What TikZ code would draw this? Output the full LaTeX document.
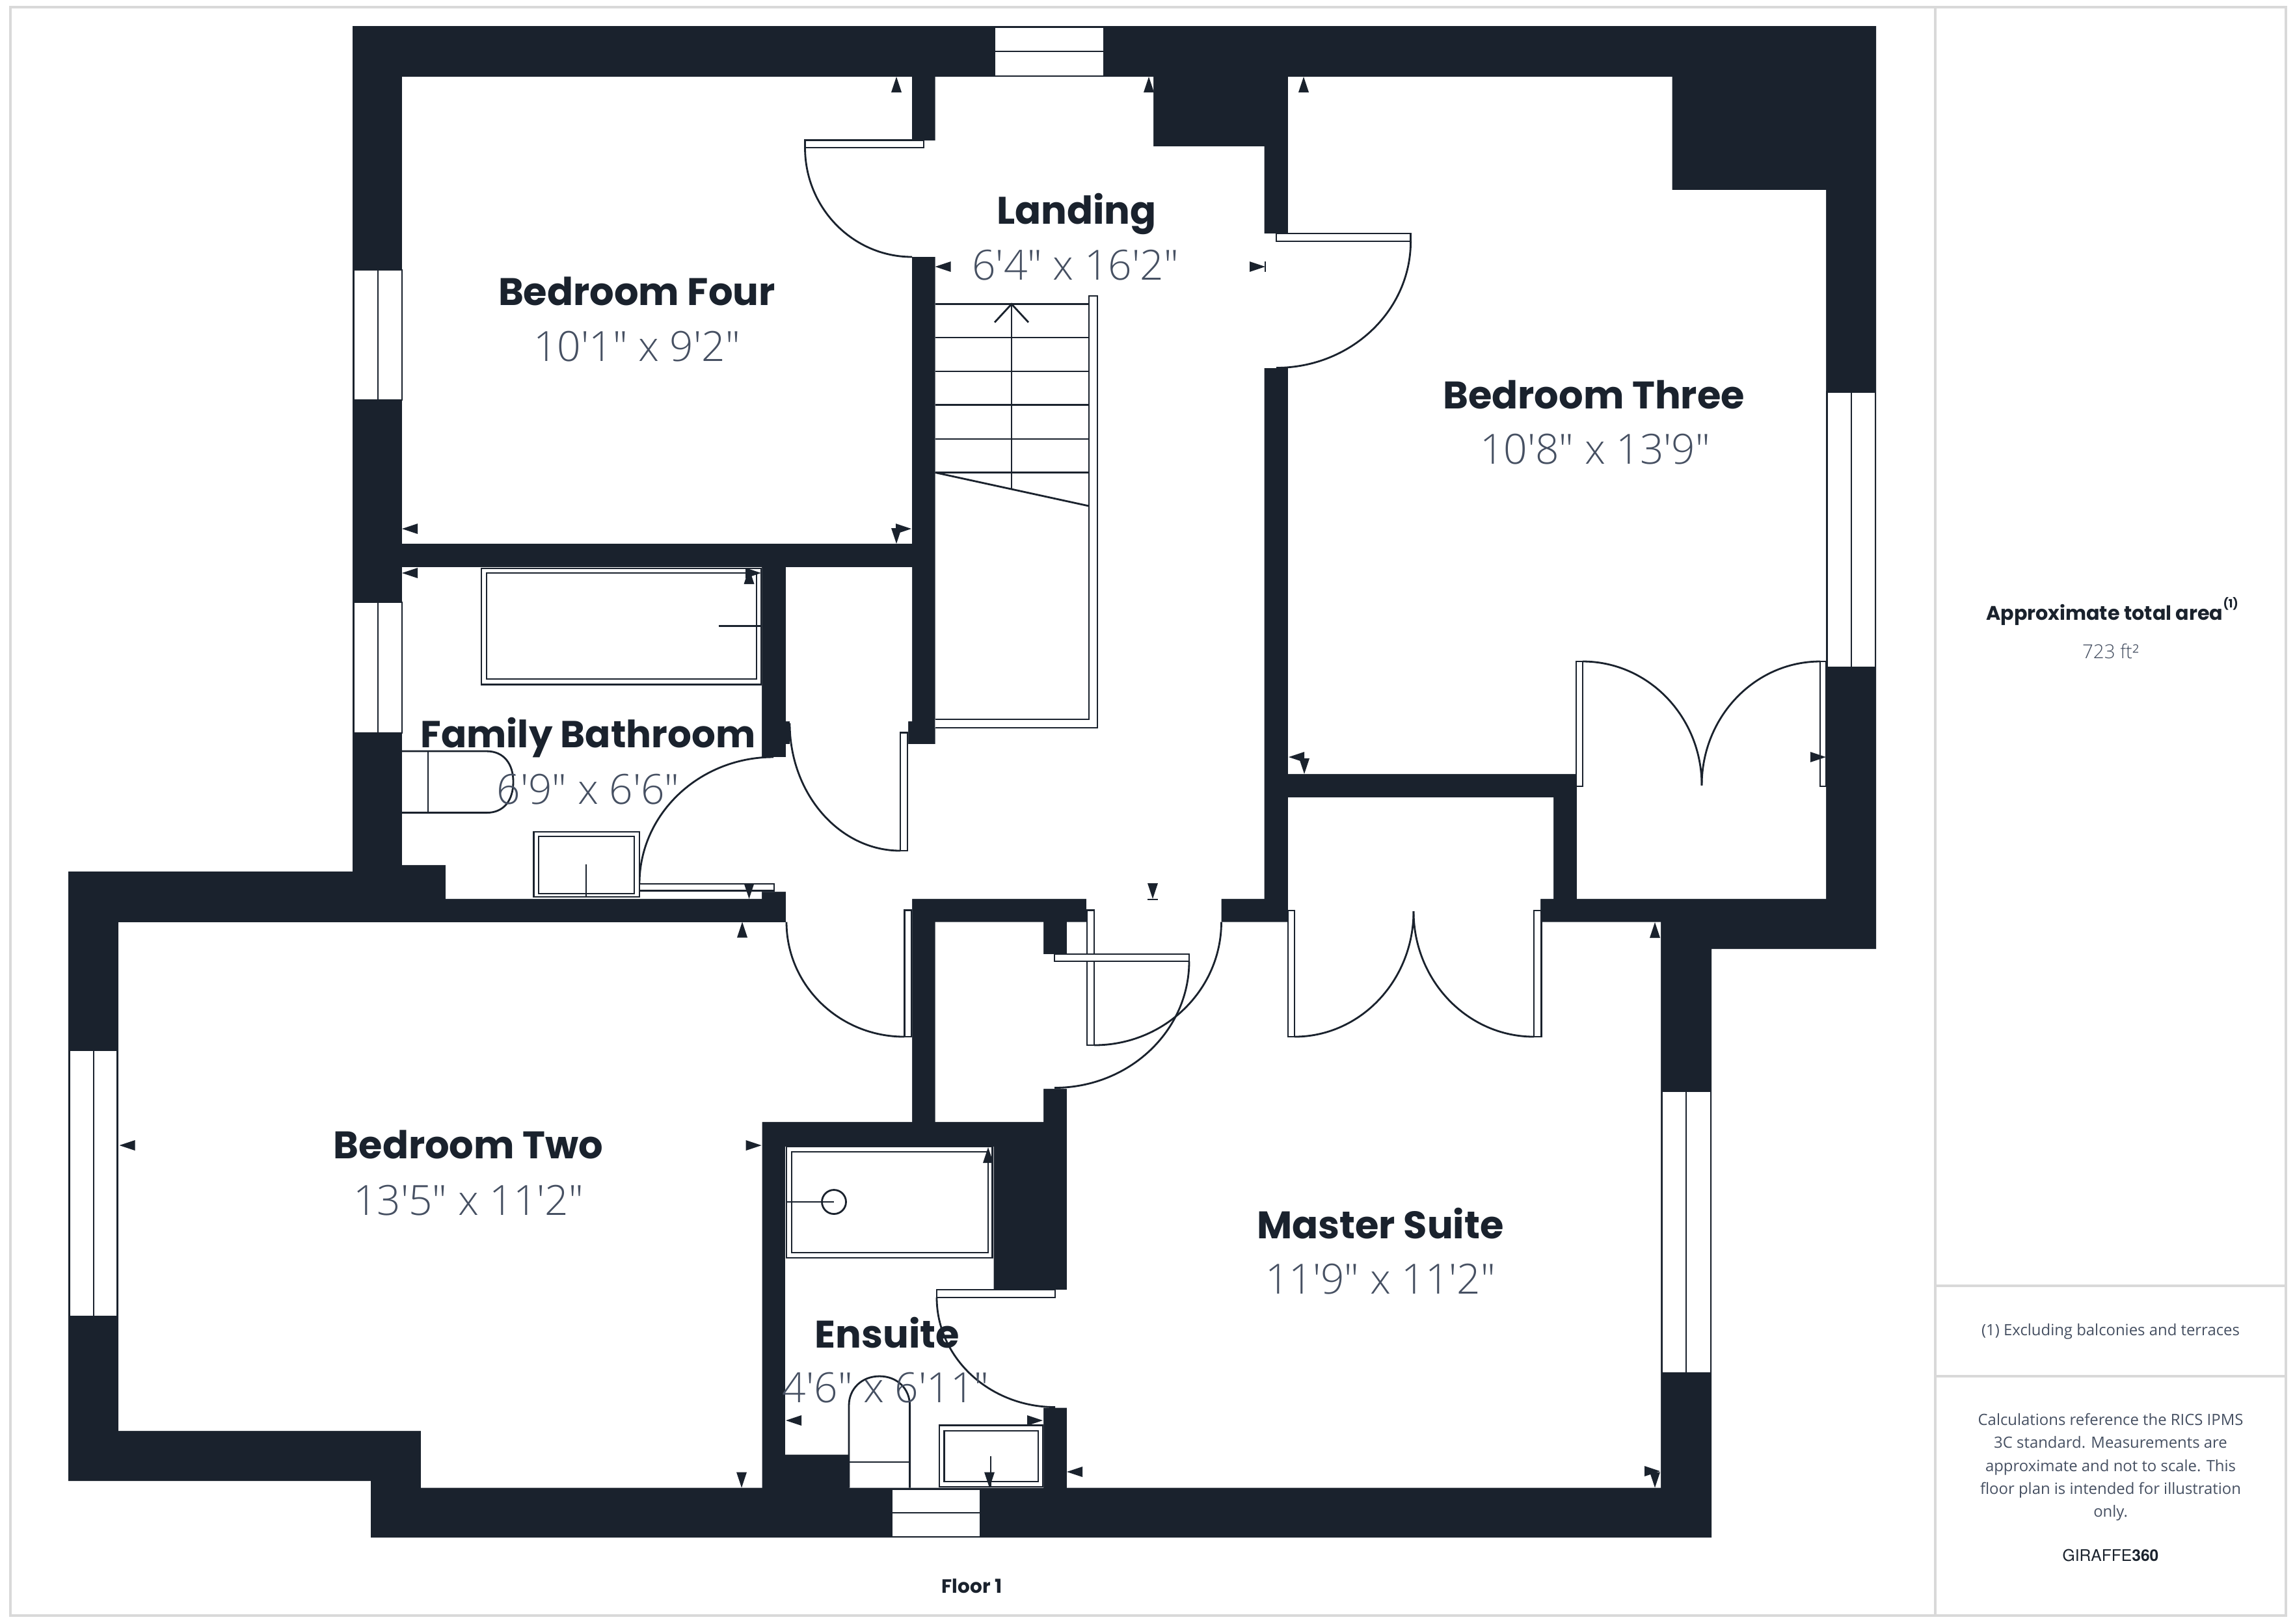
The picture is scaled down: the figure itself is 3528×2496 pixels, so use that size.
\documentclass[tikz,border=0pt]{standalone}
\usepackage{fontspec}
\setmainfont{Open Sans}
\newfontfamily\dimfont{Open Sans Light}
\newfontfamily\labelfont{Poppins}
\newfontfamily\brandfont{TeX Gyre Heros}
\definecolor{wallc}{HTML}{1A222D}
\definecolor{dimc}{HTML}{465062}
\definecolor{framec}{HTML}{D9D9D9}
\tikzset{
  wall/.style={fill=wallc,draw=none},
  room/.style={fill=white,draw=none},
  thin line/.style={draw=wallc,line width=0.8pt},
  leaf/.style={fill=white,draw=wallc,line width=0.8pt},
  pane/.style={fill=white,draw=wallc,line width=0.7pt},
  frame line/.style={draw=framec,line width=0.9pt},
  roomname/.style={anchor=base,inner sep=0pt,text=wallc,font=\labelfont\bfseries\fontsize{16.8}{19}\selectfont},
  roomdim/.style={anchor=base,inner sep=0pt,text=dimc,font=\dimfont\fontsize{18.2}{20}\selectfont},
  note/.style={anchor=base,inner sep=0pt,text=dimc,font=\fontsize{6.8}{8}\selectfont},
}
% triangles: tip position, pointing up/down/left/right
\newcommand\triU[2]{\fill[wallc] (#1,#2) -- ++(-8,24) -- ++(16,0) -- cycle;}
\newcommand\triD[2]{\fill[wallc] (#1,#2) -- ++(-8,-24) -- ++(16,0) -- cycle;}
\newcommand\triL[2]{\fill[wallc] (#1,#2) -- ++(24,-8) -- ++(0,16) -- cycle;}
\newcommand\triR[2]{\fill[wallc] (#1,#2) -- ++(-24,-8) -- ++(0,16) -- cycle;}
% quarter arc: leaves (x1,y1) vertically, reaches (x2,y2) horizontally
\newcommand\swing[4]{%
  \pgfmathsetmacro\cya{#2+0.5523*(#4-#2)}%
  \pgfmathsetmacro\cxb{#3-0.5523*(#3-#1)}%
  \draw[thin line] (#1,#2) .. controls (#1,\cya) and (\cxb,#4) .. (#3,#4);}
\begin{document}
\begin{tikzpicture}[x=0.1mm,y=-0.1mm]
\useasboundingbox (0,0) rectangle (3528,2496);
\fill[white] (0,0) rectangle (3528,2496);
% page frame and side panel
\draw[frame line] (16,11) rectangle (3514,2484);
\draw[frame line] (2975,11) -- (2975,2484);
\draw[frame line] (2975,1977) -- (3514,1977);
\draw[frame line] (2975,2116) -- (3514,2116);
% wall mass
\fill[wall] (542,40) -- (2884,40) -- (2884,1459) -- (2631,1459) -- (2631,2364) -- (570,2364) -- (570,2277) -- (105,2277) -- (105,1340) -- (542,1340) -- cycle;
% rooms
\fill[room] (618,118) rectangle (1402,836); % bedroom four
\fill[room] (1980,118) -- (2570.5,118) -- (2570.5,292) -- (2807,292) -- (2807,1382) -- (2424,1382) -- (2424,1190) -- (1980,1190) -- cycle; % bedroom three
\fill[room] (1980,1226) -- (2388,1226) -- (2388,1382) -- (2368,1382) -- (2368,1418) -- (1980,1418) -- cycle; % closet
\fill[room] (1437.5,118) -- (1773,118) -- (1773,225) -- (1943.5,225) -- (1943.5,1382) -- (1670,1382) -- (1670,1418) -- (1877.5,1418) -- (1877.5,1382) -- (1402,1382) -- (1402,1418) -- (1208,1418) -- (1208,1371) -- (1170,1371) -- (1170,1164) -- (1208,1164) -- (1208,1144) -- (1214,1144) -- (1214,1109) -- (1208,1109) -- (1208,872) -- (1402,872) -- (1402,1109) -- (1396,1109) -- (1396,1144) -- (1437.5,1144) -- cycle; % landing
\fill[room] (1402,215.6) rectangle (1437.5,395); % door to bedroom four
\fill[room] (1943,359) rectangle (1980.5,566); % door to bedroom three
\fill[room] (618,872) -- (1171,872) -- (1171,1382) -- (685,1382) -- (685,1330) -- (618,1330) -- cycle; % family bathroom
\fill[room] (182,1418) -- (1402,1418) -- (1402,1725) -- (1171.5,1725) -- (1171.5,2287.5) -- (647,2287.5) -- (647,2200) -- (182,2200) -- cycle; % bedroom two
\fill[room] (1437.5,1417.5) -- (1604,1417.5) -- (1604,1467) -- (1640,1467) -- (1640,1417.5) -- (2553,1417.5) -- (2553,2287.5) -- (1640,2287.5) -- (1640,2164.6) -- (1604,2164.6) -- (1604,1983) -- (1640,1983) -- (1640,1674) -- (1604,1674) -- (1604,1725) -- (1437.5,1725) -- cycle; % master suite
\fill[room] (1207,1763) -- (1527.5,1763) -- (1527.5,1983) -- (1604,1983) -- (1604,2287.5) -- (1305,2287.5) -- (1305,2236.5) -- (1207,2236.5) -- cycle; % ensuite
% windows
\draw[pane] (1529,42) rectangle (1697,117); \draw[thin line] (1529,79) -- (1697,79);
\draw[pane] (544,415) rectangle (618,615); \draw[thin line] (581,415) -- (581,615);
\draw[pane] (544,926) rectangle (618,1127); \draw[thin line] (581,926) -- (581,1127);
\draw[pane] (107,1615) rectangle (180,2024); \draw[thin line] (144,1615) -- (144,2024);
\draw[pane] (2808.5,602.5) rectangle (2883,1026); \draw[thin line] (2846,602.5) -- (2846,1026);
\draw[pane] (2555,1678) rectangle (2630,2111.5); \draw[thin line] (2592,1678) -- (2592,2111.5);
\draw[pane] (1370.5,2289.5) rectangle (1507,2363); \draw[thin line] (1370.5,2326) -- (1507,2326);
% door leaves
\draw[leaf] (1237.5,215.6) rectangle (1420,227);
\draw[leaf] (1962,359) rectangle (2168.6,371);
\draw[leaf] (1384,1126.6) rectangle (1395,1308);
\draw[leaf] (983,1359) rectangle (1190,1369.6);
\draw[leaf] (1390.6,1399.5) rectangle (1401,1594);
\draw[leaf] (1671,1399.5) rectangle (1682,1607);
\draw[leaf] (1621,1467) rectangle (1828,1478);
\draw[leaf] (1980,1400) rectangle (1990,1594);
\draw[leaf] (2358,1400) rectangle (2369.6,1594);
\draw[leaf] (2423,1017) rectangle (2433,1209);
\draw[leaf] (2798,1017) rectangle (2807,1209);
\draw[leaf] (1440,1983) rectangle (1622,1995);
% door swings
\swing{1237.5}{227}{1402}{395}
\swing{2168.6}{371}{1962}{565.5}
\swing{1214}{1112}{1384}{1308}
\swing{983}{1359}{1189}{1164}
\swing{1209}{1417.5}{1390}{1594}
\swing{1828}{1478}{1621}{1672.5}
\swing{1877.5}{1417.5}{1682}{1607}
\swing{2173}{1401}{1990}{1594}
\swing{2173}{1401}{2358}{1594}
\swing{2616}{1207.5}{2433}{1017}
\swing{2616}{1207.5}{2798}{1017}
\swing{1440}{1995}{1622}{2163.5}
% stairs
\draw[leaf] (1437.5,1119) -- (1687,1119) -- (1687,455) -- (1674,455) -- (1674,1106) -- (1437.5,1106);
\foreach \yy in {467.5,519,571,622.5,675,726.5} {\draw[thin line] (1437.5,\yy) -- (1674,\yy);}
\draw[thin line] (1437.5,726.5) -- (1674,778);
\draw[thin line] (1555,467.5) -- (1555,752.6);
\draw[thin line] (1529,495.6) -- (1555,467.5) -- (1581,495.6);
% family bathroom fittings
\draw[leaf] (740,874) rectangle (1170,1052.6);
\draw[leaf] (748,881) rectangle (1163,1044);
\draw[thin line] (1104.6,962.6) -- (1170,962.6);
\draw[thin line] (618,1155) -- (748,1155) .. controls (775,1155) and (789,1175) .. (789,1202) .. controls (789,1230) and (775,1249.6) .. (748,1249.6) -- (618,1249.6);
\draw[thin line] (658,1155) -- (658,1249.6);
\draw[leaf] (820.5,1279) rectangle (983,1379);
\draw[leaf] (828,1286) rectangle (975,1374);
\draw[thin line] (901,1329) -- (901,1379);
% ensuite fittings
\draw[leaf] (1209,1763) rectangle (1525.5,1934);
\draw[leaf] (1217,1771) rectangle (1519,1926);
\draw[thin line] (1209,1848) -- (1282,1848);
\draw[thin line] (1282,1848) circle (18.5);
\draw[thin line] (1305,2287.5) -- (1305,2161) .. controls (1305,2135) and (1325,2116) .. (1352,2116) .. controls (1379,2116) and (1398.6,2135) .. (1398.6,2161) -- (1398.6,2287.5);
\draw[thin line] (1305,2248) -- (1398.6,2248);
\draw[leaf] (1444,2191.6) rectangle (1603,2286);
\draw[leaf] (1451.5,2200) rectangle (1596,2278);
\draw[thin line] (1523,2238.5) -- (1523,2286);
% measurement marks
\triU{1378}{118} \triU{1766}{118} \triU{2004}{118}
\triL{1437.5}{410} \triR{1945}{410} \draw[thin line] (1945,402) -- (1945,418);
\triL{618}{813} \triR{1401}{813} \triD{1378}{836}
\triL{618}{881} \triR{1170}{881} \triU{1151.5}{874}
\triD{1151.5}{1382} \triU{1141}{1417.5}
\triD{1772}{1382} \draw[thin line] (1764,1383) -- (1780,1383);
\triR{1170.6}{1761} \triL{183.5}{1761} \triD{1140}{2287.5}
\triU{1519}{1764} \triL{1208}{2184} \triR{1603}{2184} \triD{1521}{2287.5}
\triL{1640}{2263} \triR{2552}{2262} \triD{2544}{2287.5} \triU{2544}{1418}
\triL{1981}{1164} \triD{2005}{1190} \triR{2807}{1164}
% room labels
\node[roomname] (bfour) at (979,469) {Bedroom Four};
\node[roomdim] (bfourd) at (979,555) {10'1" x 9'2"};
\node[roomname] (landing) at (1655,344.5) {Landing};
\node[roomdim] (landingd) at (1653,430) {6'4" x 16'2"};
\node[roomname] (bthree) at (2450,628) {Bedroom Three};
\node[roomdim] (bthreed) at (2452,713) {10'8" x 13'9"};
\node[roomname,font=\labelfont\bfseries\fontsize{16.45}{19}\selectfont] (fbath) at (904,1149.6) {Family Bathroom};
\node[roomdim] (fbathd) at (904,1236.5) {6'9" x 6'6"};
\node[roomname] (btwo) at (720,1781) {Bedroom Two};
\node[roomdim] (btwod) at (720,1868.5) {13'5" x 11'2"};
\node[roomname] (master) at (2122,1904.5) {Master Suite};
\node[roomdim] (masterd) at (2122,1989) {11'9" x 11'2"};
\node[roomname] (ensuite) at (1364,2072) {Ensuite};
\node[roomdim] (ensuited) at (1361.6,2156.5) {4'6" x 6'11"};
\node[roomname,font=\labelfont\bfseries\fontsize{8.4}{9}\selectfont] (floor) at (1494,2449) {Floor 1};
% panel texts
\node[roomname,font=\labelfont\bfseries\fontsize{8.6}{10}\selectfont] (area) at (3247,953) {Approximate total area\raisebox{0.62em}{\fontsize{5}{5}\selectfont (1)}};
\node[note,font=\dimfont\fontsize{8.4}{11}\selectfont] (areav) at (3244.5,1012) {723 ft²};
\node[note] (excl) at (3244.5,2053.5) {(1) Excluding balconies and terraces};
\node[note] (c1) at (3244.5,2191.5) {Calculations reference the RICS IPMS};
\node[note] (c2) at (3244.5,2226.5) {3C standard. Measurements are};
\node[note] (c3) at (3244.5,2262) {approximate and not to scale. This};
\node[note] (c4) at (3244.5,2297) {floor plan is intended for illustration};
\node[note] (c5) at (3244.5,2332.5) {only.};
\node[roomname,font=\brandfont\fontsize{7}{9}\selectfont] (brand) at (3244.5,2400.7) {GIRAFFE\textbf{360}};
\end{tikzpicture}
\end{document}
